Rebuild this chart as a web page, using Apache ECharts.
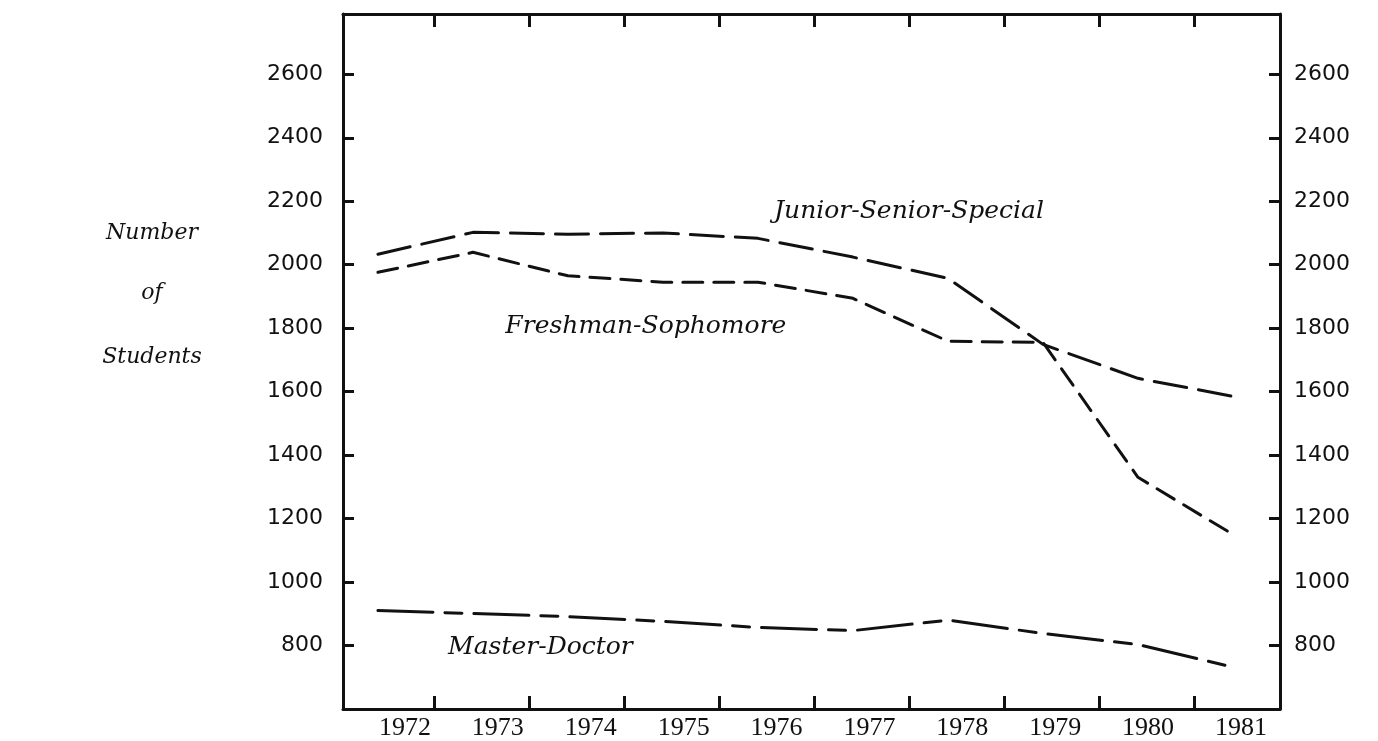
<!DOCTYPE html>
<html><head><meta charset="utf-8">
<script src="https://cdn.jsdelivr.net/npm/echarts@6/dist/echarts.min.js"></script>
<style>html,body{margin:0;padding:0;background:#fff}#c{width:1378px;height:741px}</style>
</head><body><div id="c"></div>
<script>
// ---- data ----
const years = [1972, 1973, 1974, 1975, 1976, 1977, 1978, 1979, 1980, 1981];
const freshmanSophomore = [1976, 2039, 1965, 1945, 1945, 1894, 1759, 1755, 1330, 1150];
const juniorSeniorSpecial = [2033, 2102, 2096, 2100, 2083, 2024, 1957, 1749, 1642, 1585];
const masterDoctor = [910, 901, 891, 876, 857, 847, 880, 838, 803, 732];
const yTickLabels = [800, 1000, 1200, 1400, 1600, 1800, 2000, 2200, 2400, 2600];
const seriesNames = ['Junior-Senior-Special', 'Freshman-Sophomore', 'Master-Doctor'];
const titleLines = ['Number', 'of', 'Students'];

// ---- layout/style ----
const TICK_SHIFT = 0.59;              // hand-drawn year ticks sit between data years
const tickMarks = years.slice(0, 9).map(y => y + TICK_SHIFT);
const pair = arr => years.map((y, i) => [y, arr[i]]);
const ink = '#111';
const serifItalic = 'italic 25px "DejaVu Serif"';

const chart = echarts.init(document.getElementById('c'), null, {renderer: 'canvas'});
const lineAxis = {show: true, lineStyle: {color: ink, width: 3}};
const xTickStyle = {show: true, inside: true, length: 13, lineStyle: {color: ink, width: 3}, customValues: tickMarks};
const yTickStyle = {show: true, inside: true, length: 11, lineStyle: {color: ink, width: 3}, customValues: yTickLabels};
const yLabel = margin => ({customValues: yTickLabels, margin: margin, color: ink,
  fontFamily: '"DejaVu Sans"', fontSize: 22, formatter: v => String(v)});

chart.setOption({
  animation: false,
  backgroundColor: '#fff',
  grid: {left: 343, right: 98, top: 14, bottom: 32, containLabel: false},
  xAxis: [
    {type: 'value', position: 'bottom', min: 1971.632, max: 1981.495,
     axisLine: lineAxis, axisTick: xTickStyle, axisLabel: {show: false}, splitLine: {show: false}},
    {type: 'value', position: 'top', min: 1971.632, max: 1981.495,
     axisLine: lineAxis, axisTick: xTickStyle, axisLabel: {show: false}, splitLine: {show: false}},
    {type: 'value', position: 'bottom', min: 1971.333, max: 1981.42,
     axisLine: {show: false}, axisTick: {show: false}, splitLine: {show: false},
     axisLabel: {show: true, customValues: years, margin: 6, color: ink,
       fontFamily: '"Liberation Serif"', fontSize: 26, formatter: v => String(Math.round(v))}}
  ],
  yAxis: [
    {type: 'value', position: 'left', min: 600, max: 2790,
     axisLine: lineAxis, axisTick: yTickStyle, splitLine: {show: false}, axisLabel: yLabel(20)},
    {type: 'value', position: 'right', min: 600, max: 2790,
     axisLine: lineAxis, axisTick: yTickStyle, splitLine: {show: false}, axisLabel: yLabel(14)}
  ],
  series: [
    {name: seriesNames[0], type: 'line', data: pair(juniorSeniorSpecial), symbol: 'none',
     lineStyle: {color: ink, width: 3, type: [33, 12], cap: 'round'}},
    {name: seriesNames[1], type: 'line', data: pair(freshmanSophomore), symbol: 'none',
     lineStyle: {color: ink, width: 3, type: [20, 11], cap: 'round'}},
    {name: seriesNames[2], type: 'line', data: pair(masterDoctor), symbol: 'none',
     lineStyle: {color: ink, width: 3, type: [55, 12, 17, 12], cap: 'round'}}
  ]
});

// series captions anchored in data space
const captionAt = [[1977.59, 2169], [1974.82, 1806], [1973.71, 794]];
const graphics = seriesNames.map((name, i) => {
  const p = chart.convertToPixel({xAxisIndex: 0, yAxisIndex: 0}, captionAt[i]);
  return {type: 'text', x: p[0], y: p[1],
    style: {text: name, font: serifItalic, fill: ink, align: 'center', verticalAlign: 'middle'}};
});
const titleY = [233, 293, 357];
titleLines.forEach((t, i) => graphics.push({type: 'text', x: 152, y: titleY[i],
  style: {text: t, font: 'italic 22px "DejaVu Serif"', fill: ink, align: 'center', verticalAlign: 'middle'}}));
chart.setOption({graphic: graphics});
</script>
</body></html>
